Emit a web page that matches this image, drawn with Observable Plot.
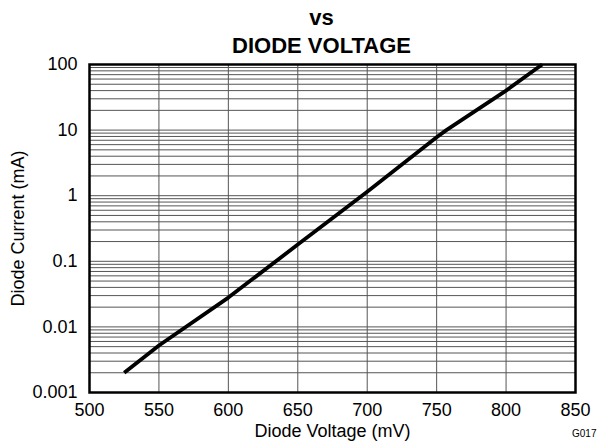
<!DOCTYPE html>
<html>
<head>
<meta charset="utf-8">
<script src="https://cdn.jsdelivr.net/npm/d3@7"></script>
<script src="https://cdn.jsdelivr.net/npm/@observablehq/plot@0.6"></script>
<style>
  html, body { margin: 0; padding: 0; background: #fff; }
</style>
</head>
<body>
<div id="chart"></div>
<script>
// Data
const voltage = [525, 550, 600, 650, 700, 750, 757, 800, 826];
const current = [0.002, 0.0052, 0.028, 0.18, 1.15, 7.8, 10, 40, 100];

const xTicks = [500, 550, 600, 650, 700, 750, 800, 850];
const yTicks = [0.001, 0.01, 0.1, 1, 10, 100];
const yTickLabels = ["0.001", "0.01", "0.1", "1", "10", "100"];
const titleLines = ["vs", "DIODE VOLTAGE"];
const xLabel = "Diode Voltage (mV)";
const yLabel = "Diode Current (mA)";
const figId = "G017";

const data = voltage.map((v, i) => ({v, c: current[i]}));

// minor grid values 1..9 x decade
const yGrid = [];
for (let e = -3; e <= 1; e++) {
  for (let k = 1; k <= 9; k++) yGrid.push(+(k * Math.pow(10, e)).toPrecision(3));
}
yGrid.push(100);

const font = "'Liberation Sans', Arial, Helvetica, sans-serif";

const chart = Plot.plot({
  width: 597,
  height: 447,
  marginLeft: 89,
  marginRight: 22,
  marginTop: 64,
  marginBottom: 55,
  style: {fontFamily: font, fontSize: "18px", color: "#000", background: "#fff"},
  x: {domain: [500, 850], ticks: xTicks},
  y: {type: "log", domain: [0.001, 100]},
  marks: [
    Plot.ruleY(yGrid, {stroke: "#555", strokeWidth: 1}),
    Plot.ruleX(xTicks, {stroke: "#555", strokeWidth: 1}),
    Plot.line(data, {x: "v", y: "c", stroke: "#000", strokeWidth: 3.8, strokeLinecap: "butt"}),
    Plot.frame({stroke: "#000", strokeWidth: 2.5}),
    Plot.axisX(xTicks, {tickSize: 0, tickPadding: 11, label: null, fontSize: 18}),
    Plot.axisY(yTicks, {tickSize: 0, tickPadding: 12, label: null, fontSize: 18,
      tickFormat: (d) => yTickLabels[yTicks.indexOf(d)]}),
    Plot.text([xLabel], {frameAnchor: "bottom", lineAnchor: "middle", dy: 39, fontSize: 18}),
    Plot.text([yLabel], {frameAnchor: "left", textAnchor: "middle", lineAnchor: "middle", dx: -71, rotate: -90, fontSize: 18}),
    Plot.text([titleLines[0]], {frameAnchor: "top", lineAnchor: "bottom", dx: -11, dy: -40, fontSize: 22, fontWeight: "bold"}),
    Plot.text([titleLines[1]], {frameAnchor: "top", lineAnchor: "bottom", dx: -11, dy: -12, fontSize: 22, fontWeight: "bold"}),
    Plot.text([figId], {frameAnchor: "bottom-right", textAnchor: "end", lineAnchor: "middle", dx: 21, dy: 41, fontSize: 10})
  ]
});
document.getElementById("chart").appendChild(chart);
</script>
</body>
</html>
